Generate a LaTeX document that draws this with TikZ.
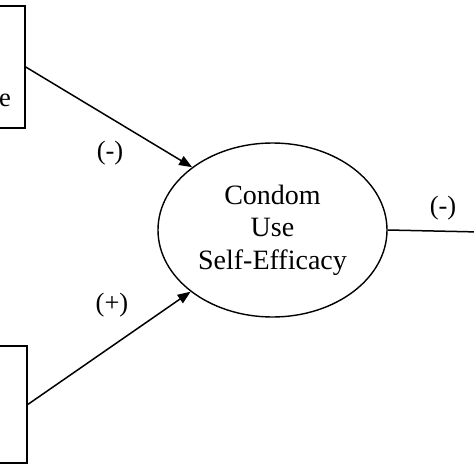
\documentclass[tikz,border=0pt]{standalone}
\usepackage{fontspec}
\setmainfont{Liberation Serif}
\usetikzlibrary{shapes.geometric,arrows.meta}
\begin{document}
\begin{tikzpicture}[x=1pt,y=-1pt,
  conn/.style={line width=1.5pt},
  arr/.style={conn,-{Triangle[length=13pt,width=10pt]}},
  boxstyle/.style={draw,line width=1.5pt,rectangle,inner sep=0pt},
  lbl/.style={font=\fontsize{26.5}{30}\selectfont,inner sep=0pt},
  latent/.style={draw,line width=1.4pt,ellipse,minimum width=229pt,minimum height=174pt,inner sep=0pt,align=center,font=\fontsize{28}{32.5}\selectfont}]
\useasboundingbox (0,0) rectangle (474,474);
\begin{scope}
\clip (0,0) rectangle (474,474);
\node[boxstyle,minimum width=60pt,minimum height=122pt] (boxA) at (-5,67) {};
\node[boxstyle,minimum width=60pt,minimum height=117pt] (boxB) at (-3,404.5) {};
\node[lbl,anchor=east] (tA) at (11,100) {e};
\node[latent] (cse) at (272.5,230) {Condom\\Use\\Self-Efficacy};
\coordinate (outR) at (480,232);
\draw[arr] (boxA.east) -- (cse.142.4);
\draw[arr] (boxB.east) -- (cse.217.6);
\draw[conn] (cse.east) -- (outR);
\node[lbl] (l1) at (110,153) {(-)};
\node[lbl] (l2) at (112,305) {(+)};
\node[lbl] (l3) at (443,208) {(-)};
\end{scope}
\end{tikzpicture}
\end{document}
